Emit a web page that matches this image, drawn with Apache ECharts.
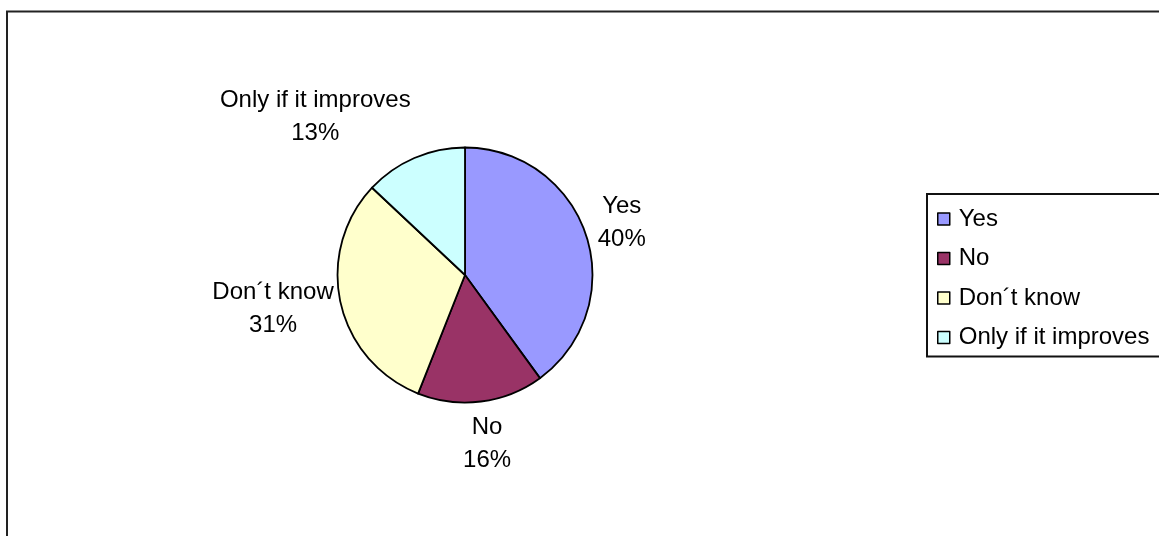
<!DOCTYPE html>
<html>
<head>
<meta charset="utf-8">
<script src="https://cdn.jsdelivr.net/npm/echarts@6/dist/echarts.min.js"></script>
<style>
html,body{margin:0;padding:0;background:#fff;}
#chart{width:1159px;height:536px;}
</style>
</head>
<body>
<div id="chart"></div>
<script>
const categories = ['Yes', 'No', 'Don´t know', 'Only if it improves'];
const values = [40, 16, 31, 13];
const percentLabels = ['40%', '16%', '31%', '13%'];
const colors = ['#9999FF', '#993366', '#FFFFCC', '#CCFFFF'];
const labelOffsets = [[-3, 0], [1, 2], [-28, -3], [-83, -4]];

const chart = echarts.init(document.getElementById('chart'), null, {renderer: 'canvas'});
const font = 'Liberation Sans, Arial, sans-serif';

const option = {
  animation: false,
  backgroundColor: '#fff',
  graphic: [{
    type: 'rect',
    shape: {x: 7, y: 11.5, width: 3000, height: 3000},
    style: {fill: 'none', stroke: '#222', lineWidth: 2},
    silent: true,
    z: -10
  }],
  legend: {
    orient: 'vertical',
    left: 927,
    top: 194,
    padding: [13, 20, 7, 10],
    borderColor: '#111',
    borderWidth: 2,
    itemWidth: 12,
    itemHeight: 12,
    itemGap: 15.5,
    icon: 'rect',
    itemStyle: {borderColor: '#000', borderWidth: 1.5},
    textStyle: {fontFamily: font, fontSize: 24, lineHeight: 24, color: '#000', padding: [0, 0, 0, 4]},
    data: categories.map((c, i) => ({name: c, itemStyle: {color: colors[i], borderColor: '#000', borderWidth: 1.5}}))
  },
  series: [{
    type: 'pie',
    center: [465, 275],
    radius: 127.5,
    startAngle: 90,
    clockwise: true,
    silent: true,
    label: {show: false},
    labelLine: {show: false},
    itemStyle: {borderColor: '#000', borderWidth: 1.8},
    data: categories.map((c, i) => ({name: c, value: values[i], itemStyle: {color: colors[i]}}))
  }, {
    type: 'pie',
    center: [465, 275],
    radius: [127, 203],
    startAngle: 90,
    clockwise: true,
    silent: true,
    legendHoverLink: false,
    itemStyle: {color: 'rgba(0,0,0,0)', borderWidth: 0},
    label: {
      show: true,
      position: 'inside',
      fontFamily: font,
      fontSize: 24,
      lineHeight: 33,
      color: '#000',
      align: 'center',
      formatter: p => p.name + '\n' + percentLabels[p.dataIndex]
    },
    labelLine: {show: false},
    data: categories.map((c, i) => ({name: c, value: values[i], label: {offset: labelOffsets[i]}}))
  }]
};
chart.setOption(option);
</script>
</body>
</html>
